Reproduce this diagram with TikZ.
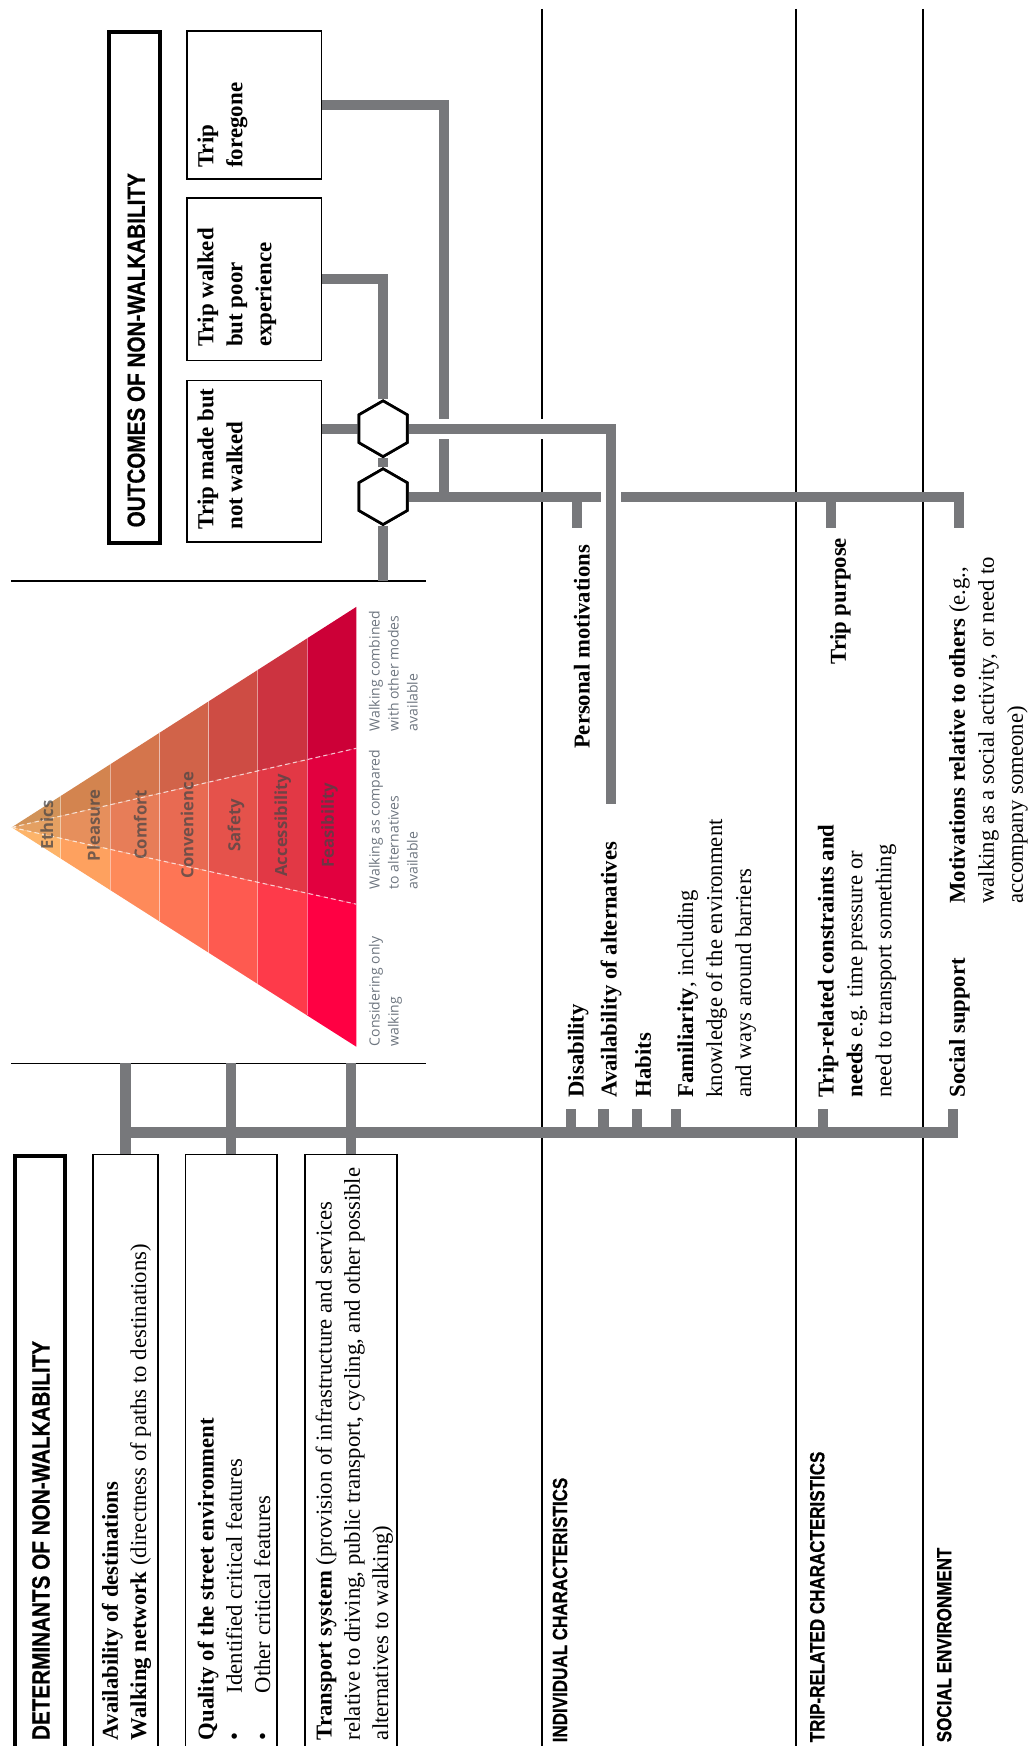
\documentclass[tikz,border=0pt]{standalone}
\usepackage{fontspec}
\setmainfont{Liberation Serif}
\newfontfamily\headfont[FakeStretch=0.83, BoldFont={Liberation Sans Bold}, BoldFeatures={FakeStretch=0.83, FakeBold=0.6}]{Liberation Sans}
\newfontfamily\trifont{Open Sans}
\usetikzlibrary{calc,shapes.geometric}

\definecolor{linkgray}{HTML}{77787B}
\definecolor{labgray}{HTML}{4A4646}
\definecolor{notegray}{HTML}{6E7680}

\tikzset{
  link/.style={draw=linkgray, line width=4.6pt},
  halo/.style={draw=white, line width=9pt},
  sepline/.style={draw=black, line width=0.8pt},
  obox/.style={draw, line width=0.7pt, anchor=north west, inner sep=0pt, minimum width=60.5pt},
  dbox/.style={draw, line width=0.7pt, anchor=north west, inner sep=0pt, minimum height=280pt},
  titlebox/.style={draw, line width=1.8pt, anchor=north west, inner sep=0pt},
  hexnode/.style={draw, fill=white, line width=1.2pt, regular polygon, regular polygon sides=6,
    shape border rotate=30, minimum size=25pt, inner sep=0pt},
  vtxt/.style={rotate=90, anchor=north west, inner sep=0pt, align=left},
  otxt/.style={vtxt, font=\fontsize{10.3}{13}\selectfont\bfseries},
  dtxt/.style={vtxt, font=\fontsize{10.2}{12.7}\selectfont},
  rtxt/.style={vtxt, font=\fontsize{10.2}{13}\selectfont},
  ttl/.style={vtxt, font=\headfont\fontsize{11.2}{13}\selectfont\bfseries},
  hdr/.style={vtxt, font=\headfont\fontsize{9.2}{11}\selectfont\bfseries},
  lvl/.style={rotate=90, inner sep=0pt, text=labgray, text opacity=0.75, font=\trifont\fontsize{7.5}{9}\selectfont\bfseries},
  note/.style={vtxt, text=notegray, font=\trifont\fontsize{6.3}{8.5}\selectfont}
}

\begin{document}
\begin{tikzpicture}[x=0.5pt, y=-0.5pt]
\useasboundingbox (0,0) rectangle (923,1568);
\clip (0,0) rectangle (923,1568);

% triangle of walking needs
\coordinate (apex) at (10.5,743);
\coordinate (b0) at (320,545);
\coordinate (b1) at (320,672);
\coordinate (b2) at (320,812);
\coordinate (b3) at (320,940);
\foreach \i/\ca/\cb/\cc in {0/D19258/E4A062/FDB46A, 1/D3844F/E68F5C/FEA15F, 2/D4754C/E77D58/FE8A5A,
    3/D16349/E86A52/FE7555, 4/CE4C44/E5524B/FE5A50, 5/CC3340/E23845/FE3A4A, 6/CC0037/E2003F/FF0043}{
  \pgfmathsetmacro\ta{\i/7}
  \pgfmathsetmacro\tb{(\i+1)/7}
  \definecolor{cella}{HTML}{\ca}
  \definecolor{cellb}{HTML}{\cb}
  \definecolor{cellc}{HTML}{\cc}
  \fill[cella] ($(apex)!\ta!(b0)$) -- ($(apex)!\tb!(b0)$) -- ($(apex)!\tb!(b1)$) -- ($(apex)!\ta!(b1)$) -- cycle;
  \fill[cellb] ($(apex)!\ta!(b1)$) -- ($(apex)!\tb!(b1)$) -- ($(apex)!\tb!(b2)$) -- ($(apex)!\ta!(b2)$) -- cycle;
  \fill[cellc] ($(apex)!\ta!(b2)$) -- ($(apex)!\tb!(b2)$) -- ($(apex)!\tb!(b3)$) -- ($(apex)!\ta!(b3)$) -- cycle;
}
\foreach \i in {1,...,6}{
  \pgfmathsetmacro\ta{\i/7}
  \draw[white, opacity=0.45, line width=0.5pt] ($(apex)!\ta!(b0)$) -- ($(apex)!\ta!(b3)$);
}
\draw[white, opacity=0.7, line width=0.5pt, dash pattern=on 2pt off 1.5pt] (apex) -- (b1) (apex) -- (b2);

\node[lvl] (ethics) at (42,741) {Ethics};
\node[lvl] (pleasure) at (84,741) {Pleasure};
\node[lvl] (comfort) at (126,741) {Comfort};
\node[lvl] (convenience) at (168,741) {Convenience};
\node[lvl] (safety) at (212,741) {Safety};
\node[lvl] (access) at (254,741) {Accessibility};
\node[lvl] (feasible) at (296,741) {Feasibility};

\node[note] (combined) at (331,657) {Walking combined\\with other modes\\available};
\node[note] (compared) at (331,799) {Walking as compared\\to alternatives\\available};
\node[note] (onlywalk) at (331,940) {Considering only\\walking};

% separators
\draw[sepline] (10,522) -- (383,522);
\draw[sepline] (10,955) -- (383,955);
\draw[sepline] (487,8) -- (487,1568);
\draw[sepline] (715,8) -- (715,1568);
\draw[sepline] (829,8) -- (829,1568);

% boxes
\node[titlebox, minimum width=22.75pt, minimum height=229.5pt] (otitle) at (96,27) {};
\node[obox, minimum height=72.5pt] (made) at (167,341) {};
\node[obox, minimum height=73pt] (walked) at (167,177) {};
\node[obox, minimum height=66.5pt] (foregone) at (167,27) {};

\node[titlebox, minimum width=22.5pt, minimum height=280pt] (dtitle) at (12,1036) {};
\node[dbox, minimum width=29pt] (dest) at (83,1036) {};
\node[dbox, minimum width=41pt] (qual) at (166,1036) {};
\node[dbox, minimum width=41.5pt] (trans) at (273,1036) {};

\node[hexnode] (hexA) at (344,385) {};
\node[hexnode] (hexB) at (344,446) {};

% connector ends
\coordinate (cut1) at (344,522);
\coordinate (cut2) at (112,955);
\coordinate (jB) at (399,446);
\coordinate (tPers) at (518,474);
\coordinate (tPurp) at (746,474);
\coordinate (tOth) at (861,474);
\coordinate (tAltUp) at (549,722);
\coordinate (bus) at (112,1017);
\coordinate (tDis) at (513,996);
\coordinate (tAlt) at (542,996);
\coordinate (tHab) at (572,996);
\coordinate (tFam) at (607,996);
\coordinate (tCon) at (739,996);
\coordinate (tSoc) at (856,996);

% outcome links
\draw[link] (walked.east) -| (hexA.north);
\draw[link] (hexA.south) -- (hexB.north);
\draw[link] (hexB.south) -- (cut1);
\draw[link] (made.east |- hexA) -- (hexA.west);
\draw[link] (foregone.east) -| (jB);
\draw[link] (hexB.east) -| (tOth);
\foreach \t in {tPers,tPurp}
  \draw[link] (\t |- hexB) -- (\t);
\draw[halo] (hexA.east) -| (tAltUp);
\draw[link] (hexA.east) -| (tAltUp);

% determinant links
\foreach \b in {dest,qual,trans}
  \draw[link] (\b.north) -- (\b.north |- cut2);
\draw[link] (bus) -| (tSoc);
\foreach \t in {tDis,tAlt,tHab,tFam,tCon}
  \draw[link] (\t |- bus) -- (\t);

\node[hexnode] at (hexA) {};
\node[hexnode] at (hexB) {};

% texts
\node[ttl] (otitleT) at (114,474) {OUTCOMES OF NON-WALKABILITY};
\node[otxt] (madeT) at (177,476) {Trip made but\\not walked};
\node[otxt] (walkedT) at (177,312) {Trip walked\\but poor\\experience};
\node[otxt] (foregoneT) at (177,151) {Trip\\foregone};

\node[ttl] (dtitleT) at (28.5,1563) {DETERMINANTS OF NON-WALKABILITY};
\node[dtxt] (destT) at (91,1563) {\textbf{Availability of destinations}\\\textbf{Walking network} (directness of paths to destinations)};
\node[dtxt] (qualT) at (177,1563) {\textbf{Quality of the street environment}\\\makebox[21pt][l]{\textbullet}Identified critical features\\\makebox[21pt][l]{\textbullet}Other critical features};
\node[dtxt] (transT) at (283,1563) {\textbf{Transport system} (provision of infrastructure and services\\relative to driving, public transport, cycling, and other possible\\alternatives to walking)};

\node[hdr] (indiv) at (496,1565) {INDIVIDUAL CHARACTERISTICS};
\node[hdr] (triprel) at (727,1565) {TRIP-RELATED CHARACTERISTICS};
\node[hdr] (social) at (841,1565) {SOCIAL ENVIRONMENT};

\node[rtxt] (dis) at (509.5,986) {\textbf{Disability}};
\node[rtxt] (alt) at (539,986) {\textbf{Availability of alternatives}};
\node[rtxt] (hab) at (570,986) {\textbf{Habits}};
\node[rtxt] (fam) at (608,986) {\textbf{Familiarity}, including\\knowledge of the environment\\and ways around barriers};
\node[rtxt] (pers) at (515,673) {\textbf{Personal motivations}};
\node[rtxt] (purp) at (745,597) {\textbf{Trip purpose}};
\node[rtxt] (cons) at (734,986) {\textbf{Trip-related constraints and}\\\textbf{needs} e.g. time pressure or\\need to transport something};
\node[rtxt] (soc) at (852,986) {\textbf{Social support}};
\node[rtxt] (oth) at (852,812) {\textbf{Motivations relative to others} (e.g.,\\walking as a social activity, or need to\\accompany someone)};
\end{tikzpicture}
\end{document}
